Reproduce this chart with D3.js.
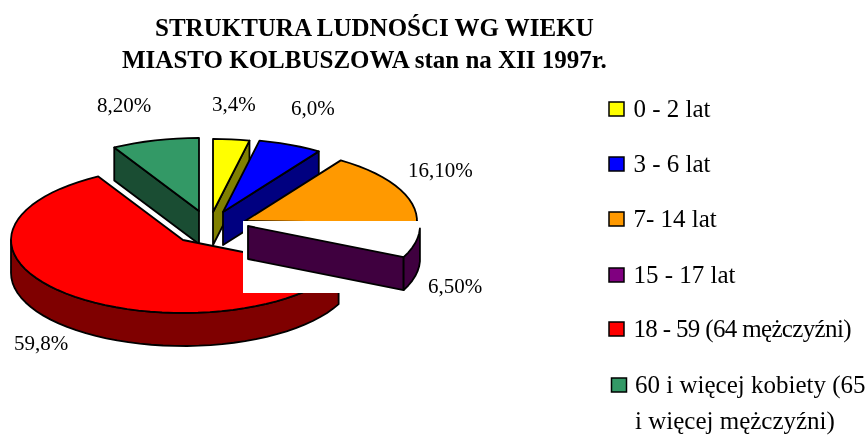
<!DOCTYPE html>
<html>
<head>
<meta charset="utf-8">
<script src="https://cdn.jsdelivr.net/npm/d3@7"></script>
<style>
  html, body { margin: 0; padding: 0; background: #fff; overflow: hidden; }
  svg { display: block; filter: blur(0.35px); }
</style>
</head>
<body>
<div id="chart"></div>
<script>
// chart values
var categories = ["0 - 2 lat", "3 - 6 lat", "7- 14 lat", "15 - 17 lat", "18 - 59 (64 mężczyźni)", "60 i więcej kobiety (65"];
var legendExtra = "i więcej mężczyźni)";
var values = [3.4, 6.0, 16.1, 6.5, 59.8, 8.2];
var valueLabels = ["3,4%", "6,0%", "16,10%", "6,50%", "59,8%", "8,20%"];
var titleLines = ["STRUKTURA LUDNOŚCI WG WIEKU", "MIASTO KOLBUSZOWA stan na XII 1997r."];

// colours
var topColors = ["#ffff00", "#0000ff", "#ff9900", "#800080", "#ff0000", "#339966"];
var sideColors = ["#808000", "#000080", "#7f4c00", "#3f003f", "#7f0000", "#1a4d33"];

// layout
var width = 867, height = 435;
var font = "'Liberation Serif', serif";
var rx = 172, ry = 73, depth = 33;
// where the tip of each pulled out slice sits
var apexX = [213, 223, 245, 248, 183, 199];
var apexY = [212, 212, 221, 226, 240, 211];
var titleX = [155, 122];
var titleY = [36, 68];
var labelX = [212, 291, 408, 428, 14, 97];
var labelY = [111, 115, 177, 293, 350, 112];
var legendY = [117, 172, 227, 283, 337, 393];
var drawOrder = [5, 0, 1, 2, 4];
var purple = 3;

var svg = d3.select("#chart").append("svg")
  .attr("width", width)
  .attr("height", height);

svg.selectAll("text.title")
  .data(titleLines)
  .enter().append("text")
  .attr("class", "title")
  .attr("x", (d, i) => titleX[i])
  .attr("y", (d, i) => titleY[i])
  .style("font-family", font)
  .style("font-weight", "bold")
  .style("font-size", "25px")
  .text(d => d);

var arcs = d3.pie().sort(null).startAngle(0).endAngle(2 * Math.PI)(values);

var line = d3.line().curve(d3.curveLinear);

// angle to screen point, tilted pie seen from above
function project(i, a, drop) {
  return [apexX[i] + rx * Math.sin(a), apexY[i] - ry * Math.cos(a) + (drop || 0)];
}

function arcPoints(i, a0, a1, drop) {
  var n = Math.max(1, Math.ceil((a1 - a0) / 0.07));
  return d3.range(n + 1).map(k => project(i, a0 + (a1 - a0) * k / n, drop));
}

// outer wall, only the part turned to the viewer
function rimPath(i) {
  var a0 = Math.max(arcs[i].startAngle, Math.PI / 2);
  var a1 = Math.min(arcs[i].endAngle, 3 * Math.PI / 2);
  if (a1 <= a0) return null;
  return line(arcPoints(i, a0, a1, 0).concat(arcPoints(i, a0, a1, depth).reverse())) + "Z";
}

// cut face of the slice at angle a
function facePath(i, a) {
  var tip = [apexX[i], apexY[i]];
  var tipLow = [apexX[i], apexY[i] + depth];
  return line([tip, project(i, a), project(i, a, depth), tipLow]) + "Z";
}

function topPath(i) {
  return line([[apexX[i], apexY[i]]].concat(arcPoints(i, arcs[i].startAngle, arcs[i].endAngle))) + "Z";
}

function drawWalls(g, i) {
  var d = arcs[i];
  if (Math.sin(d.endAngle) > 0.001) {
    g.append("path").attr("d", facePath(i, d.endAngle)).attr("fill", sideColors[i]);
  }
  if (Math.sin(d.startAngle) < -0.001) {
    g.append("path").attr("d", facePath(i, d.startAngle)).attr("fill", sideColors[i]);
  }
  var rim = rimPath(i);
  if (rim) g.append("path").attr("d", rim).attr("fill", sideColors[i]);
}

var pieG = svg.append("g")
  .attr("stroke", "#000")
  .attr("stroke-width", 1.8)
  .attr("stroke-linejoin", "round");

drawOrder.forEach(function(i) {
  var g = pieG.append("g");
  drawWalls(g, i);
  g.append("path").attr("d", topPath(i)).attr("fill", topColors[i]);
});

// white patch pasted over the middle of the source picture
pieG.append("rect")
  .attr("x", 243).attr("y", 221)
  .attr("width", 176).attr("height", 72)
  .attr("fill", "#fff")
  .attr("stroke", "none");

// purple slice keeps only its walls, the top is lost under the patch
drawWalls(pieG.append("g"), purple);

svg.selectAll("text.value")
  .data(valueLabels)
  .enter().append("text")
  .attr("class", "value")
  .attr("x", (d, i) => labelX[i])
  .attr("y", (d, i) => labelY[i])
  .style("font-family", font)
  .style("font-size", "21px")
  .text(d => d);

// legend
var legend = svg.selectAll("g.legend")
  .data(categories)
  .enter().append("g")
  .attr("class", "legend")
  .attr("transform", (d, i) => "translate(" + (i == 5 ? 611 : 608.5) + "," + legendY[i] + ")");

legend.append("rect")
  .attr("x", 0.5)
  .attr("y", -15)
  .attr("width", 15)
  .attr("height", 14)
  .attr("fill", (d, i) => topColors[i])
  .attr("stroke", "#000")
  .attr("stroke-width", 1.5);

legend.append("text")
  .attr("x", (d, i) => i == 5 ? 24 : 25)
  .attr("y", 0)
  .attr("textLength", (d, i) => i == 4 ? 218 : null)
  .style("font-family", font)
  .style("font-size", "25px")
  .text(d => d);

svg.append("text")
  .attr("x", 635)
  .attr("y", 429)
  .style("font-family", font)
  .style("font-size", "25px")
  .text(legendExtra);
</script>
</body>
</html>
